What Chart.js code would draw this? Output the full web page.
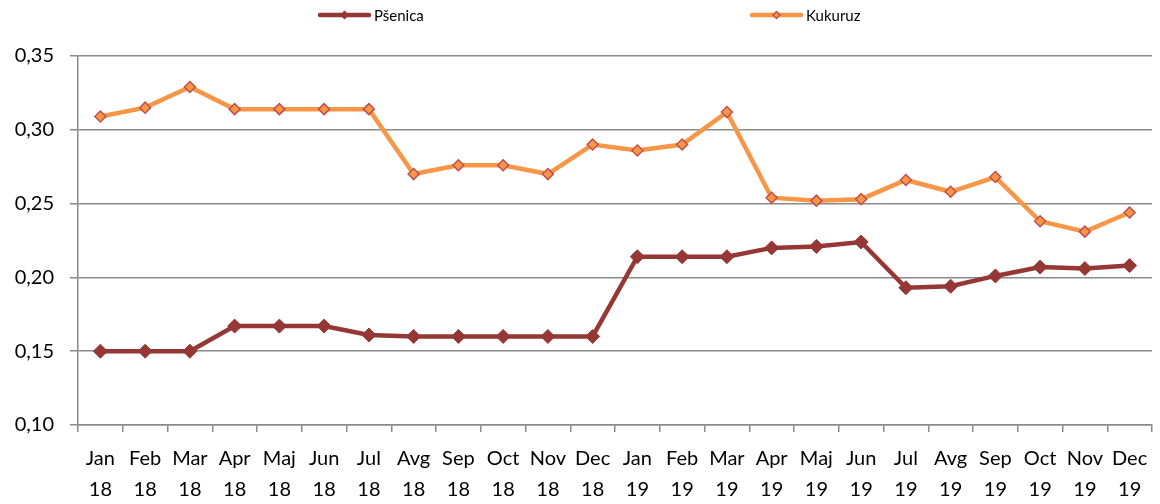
<!DOCTYPE html>
<html><head><meta charset="utf-8">
<script src="https://cdn.jsdelivr.net/npm/chart.js@4"></script>
<style>html,body{margin:0;padding:0;background:#fff}#wrap{width:1160px;height:504px;position:relative}</style>
</head><body><div id="wrap"><canvas id="c"></canvas></div>
<script>
const months = ["Jan","Feb","Mar","Apr","Maj","Jun","Jul","Avg","Sep","Oct","Nov","Dec","Jan","Feb","Mar","Apr","Maj","Jun","Jul","Avg","Sep","Oct","Nov","Dec"];
const years = ["18","18","18","18","18","18","18","18","18","18","18","18","19","19","19","19","19","19","19","19","19","19","19","19"];
const seriesNames = ["Pšenica","Kukuruz"];
const psenica = [0.150,0.150,0.150,0.167,0.167,0.167,0.161,0.160,0.160,0.160,0.160,0.160,0.214,0.214,0.214,0.220,0.221,0.224,0.193,0.194,0.201,0.207,0.206,0.208];
const kukuruz = [0.309,0.315,0.329,0.314,0.314,0.314,0.314,0.270,0.276,0.276,0.270,0.290,0.286,0.290,0.312,0.254,0.252,0.253,0.266,0.258,0.268,0.238,0.231,0.244];
const yMin = 0.10, yMax = 0.35, yStep = 0.05;

const labels = months.map((m,i)=>[m, years[i]]);
const gridColor = '#8a8a8a';

const legendPlugin = {
  id:'customLegend',
  afterDraw(chart){
    const ctx = chart.ctx;
    const pos = [318, 750];
    chart.data.datasets.forEach((ds,i)=>{
      const x0 = pos[i], y = 15;
      ctx.save();
      ctx.strokeStyle = ds.borderColor; ctx.lineWidth = 4.5; ctx.lineCap = 'round';
      ctx.beginPath(); ctx.moveTo(x0+2,y); ctx.lineTo(x0+51,y); ctx.stroke();
      const r = i===0 ? 3.5 : 3.5;
      const cx = x0+26.5;
      ctx.beginPath(); ctx.moveTo(cx,y-r); ctx.lineTo(cx+r,y); ctx.lineTo(cx,y+r); ctx.lineTo(cx-r,y); ctx.closePath();
      ctx.fillStyle = ds.pointBackgroundColor; ctx.fill();
      ctx.strokeStyle = ds.pointBorderColor; ctx.lineWidth = 1.5; ctx.stroke();
      ctx.fillStyle = '#000'; ctx.font = '15px Lato'; ctx.textBaseline = 'middle'; ctx.textAlign='left';
      ctx.fillText(ds.label, x0+56, y+1);
      ctx.restore();
    });
  }
};

new Chart(document.getElementById('c'), {
  type:'line',
  data:{
    labels: labels,
    datasets:[
      {label:seriesNames[0], data:psenica, borderColor:'#953735', backgroundColor:'#953735', borderWidth:4.5,
       pointStyle:'rectRot', pointRadius:7, pointBackgroundColor:'#953735', pointBorderColor:'#953735', pointBorderWidth:1, tension:0},
      {label:seriesNames[1], data:kukuruz, borderColor:'#F79646', backgroundColor:'#F79646', borderWidth:4.5,
       pointStyle:'rectRot', pointRadius:5.5, pointBackgroundColor:'#F79646', pointBorderColor:'#C0504D', pointBorderWidth:1.5, tension:0}
    ]
  },
  plugins:[legendPlugin],
  options:{
    responsive:true, maintainAspectRatio:false, animation:false, devicePixelRatio:1,
    layout:{padding:{top:56,right:5,left:0,bottom:0}},
    plugins:{legend:{display:false}, tooltip:{enabled:false}},
    events:[],
    scales:{
      x:{
        offset:true,
        grid:{offset:true, drawOnChartArea:false, drawTicks:true, tickLength:7, color:gridColor, lineWidth:1.5},
        border:{color:gridColor, width:1.5},
        ticks:{autoSkip:false, maxRotation:0, minRotation:0, color:'#000', padding:11, font:{family:'Lato', size:20, lineHeight:1.55}},
        afterFit(s){ s.height = 79; }
      },
      y:{
        min:yMin, max:yMax,
        grid:{color:gridColor, lineWidth:1.5, tickLength:8, drawTicks:true},
        border:{color:gridColor, width:1.5},
        ticks:{stepSize:yStep, color:'#000', padding:16, font:{family:'Lato', size:20},
          callback:(v)=>v.toFixed(2).replace('.',',')},
        afterFit(s){ s.width = 78; }
      }
    }
  }
});
</script></body></html>
